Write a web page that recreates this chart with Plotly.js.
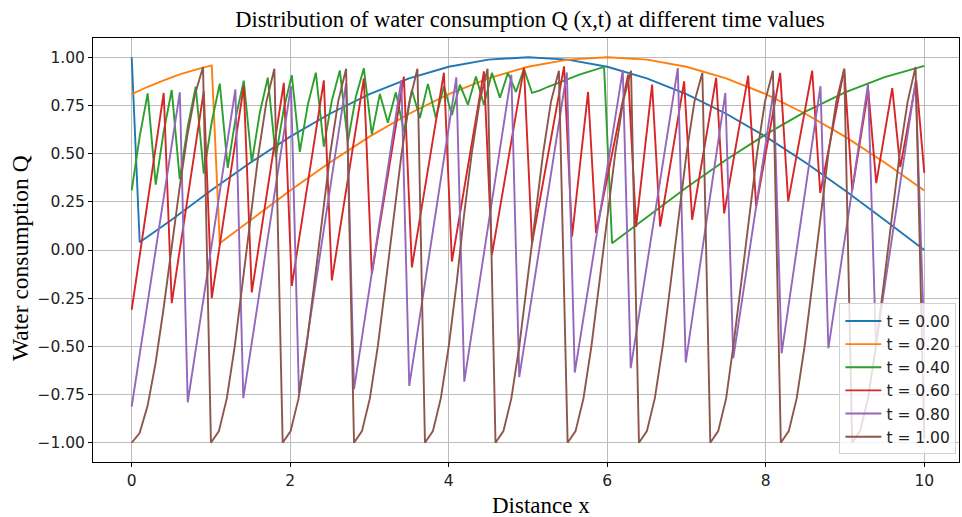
<!DOCTYPE html>
<html>
<head>
<meta charset="utf-8">
<script src="https://cdn.plot.ly/plotly-3.0.1.min.js"></script>
<style>html,body{margin:0;padding:0;background:#fff;}#chart{width:962px;height:517px;}</style>
</head>
<body>
<div id="chart"></div>
<script>
// ---- data ----
const seriesLabels = ["t = 0.00", "t = 0.20", "t = 0.40", "t = 0.60", "t = 0.80", "t = 1.00"];

const blueX = [0, 0.101, 0.5, 1, 1.5, 2, 2.5, 3, 3.5, 4, 4.5, 5, 5.5, 6, 6.5, 7, 7.5, 8, 8.5, 9, 9.5, 10];
const blueY = [1.0, 0.04, 0.156, 0.309, 0.454, 0.588, 0.707, 0.809, 0.891, 0.951, 0.988, 1.0, 0.988, 0.951, 0.891, 0.809, 0.707, 0.588, 0.454, 0.309, 0.156, 0.0];

const orangeX = [0, 0.202, 0.404, 0.606, 0.808, 1.01, 1.111, 1.5, 2, 2.5, 3, 3.5, 4, 4.5, 5, 5.5, 6, 6.5, 7, 7.5, 8, 8.5, 9, 9.5, 10];
const orangeY = [0.809, 0.847, 0.880, 0.911, 0.936, 0.958, 0.035, 0.156, 0.309, 0.454, 0.588, 0.707, 0.809, 0.891, 0.951, 0.988, 1.0, 0.988, 0.951, 0.891, 0.809, 0.707, 0.588, 0.454, 0.309];

const greenX = [0, 0.101, 0.202, 0.303, 0.404, 0.505, 0.606, 0.707, 0.808, 0.909, 1.010, 1.111, 1.212, 1.313, 1.414, 1.515, 1.616, 1.717, 1.818, 1.919,
  2.020, 2.121, 2.222, 2.323, 2.424, 2.525, 2.626, 2.727, 2.828, 2.929, 3.030, 3.131, 3.232, 3.333, 3.434, 3.535, 3.636, 3.737, 3.838, 3.939,
  4.040, 4.141, 4.242, 4.343, 4.444, 4.545, 4.646, 4.747, 4.848, 4.949, 5.051, 5.152, 5.253, 5.354, 5.455, 5.556, 5.657, 5.758, 5.859, 5.960,
  6.061, 6.5, 7, 7.5, 8, 8.5, 9, 9.5, 10];
const greenY = [0.309, 0.590, 0.813, 0.339, 0.615, 0.830, 0.368, 0.640, 0.847, 0.397, 0.664, 0.863, 0.426, 0.688, 0.879, 0.454, 0.711, 0.894, 0.482, 0.733,
  0.907, 0.509, 0.754, 0.920, 0.536, 0.775, 0.932, 0.562, 0.795, 0.943, 0.600, 0.810, 0.660, 0.818, 0.615, 0.830, 0.685, 0.862, 0.685, 0.850,
  0.700, 0.858, 0.754, 0.900, 0.754, 0.919, 0.790, 0.919, 0.820, 0.940, 0.815, 0.828, 0.847, 0.864, 0.880, 0.896, 0.911, 0.924, 0.936, 0.950,
  0.035, 0.171, 0.324, 0.468, 0.600, 0.718, 0.818, 0.897, 0.955];

const redX = [0, 0.404, 0.505, 0.909, 1.010, 1.414, 1.515, 1.919, 2.020, 2.424, 2.525, 2.929, 3.030, 3.434, 3.535, 3.939, 4.040, 4.444, 4.545, 4.949,
  5.051, 5.455, 5.556, 5.758, 5.859, 6.263, 6.364, 6.566, 6.667, 6.970, 7.071, 7.374, 7.475, 7.778, 7.879, 8.182, 8.283, 8.586, 8.687, 8.990,
  9.091, 9.293, 9.394, 9.596, 9.697, 9.899, 10.0];
const redY = [-0.31, 0.815, -0.276, 0.823, -0.25, 0.85, -0.22, 0.867, -0.186, 0.88, -0.158, 0.89, -0.124, 0.90, -0.09, 0.92, -0.06, 0.927, -0.025, 0.945,
  0.035, 0.953, 0.07, 0.82, 0.088, 0.91, 0.12, 0.858, 0.122, 0.875, 0.157, 0.893, 0.19, 0.905, 0.227, 0.919, 0.252, 0.93, 0.296, 0.94,
  0.31, 0.83, 0.347, 0.84, 0.43, 0.88, 0.40];

const purpleX = [0, 0.607, 0.707, 1.308, 1.408, 2.01, 2.11, 2.705, 2.805, 3.402, 3.502, 4.096, 4.196, 4.79, 4.89, 5.49, 5.59, 6.196, 6.296, 6.89,
  6.99, 7.49, 7.59, 8.10, 8.20, 8.69, 8.79, 9.29, 9.39, 9.89, 10.0];
const purpleY = [-0.813, 0.818, -0.790, 0.834, -0.769, 0.850, -0.743, 0.866, -0.723, 0.881, -0.705, 0.895, -0.683, 0.909, -0.660, 0.921, -0.636, 0.933, -0.613, 0.944,
  -0.584, 0.815, -0.562, 0.830, -0.536, 0.850, -0.510, 0.860, -0.490, 0.875, -0.47];

const brownX = [0, 0.1, 0.2, 0.3, 0.4, 0.5, 0.6, 0.7, 0.8, 0.9,
  1.0, 1.1, 1.2, 1.3, 1.4, 1.5, 1.6, 1.7, 1.8,
  1.905, 2.005, 2.105, 2.205, 2.305, 2.405, 2.505, 2.605, 2.705,
  2.805, 2.905, 3.005, 3.105, 3.205, 3.305, 3.405, 3.505, 3.605,
  3.70, 3.80, 3.90, 4.00, 4.10, 4.19, 4.29, 4.39, 4.49,
  4.59, 4.69, 4.79, 4.89, 4.99, 5.09, 5.19, 5.29, 5.39,
  5.50, 5.60, 5.70, 5.80, 5.90, 6.00, 6.10, 6.20, 6.30,
  6.40, 6.50, 6.60, 6.70, 6.80, 6.90, 7.00, 7.10, 7.20,
  7.30, 7.40, 7.50, 7.59, 7.69, 7.79, 7.89, 7.99, 8.09,
  8.19, 8.29, 8.39, 8.49, 8.59, 8.69, 8.79, 8.89, 8.99,
  9.09, 9.19, 9.29, 9.39, 9.49, 9.59, 9.69, 9.79, 9.89, 10.0];
const brownY = [-1, -0.95, -0.81, -0.59, -0.31, 0, 0.31, 0.59, 0.81, 0.95,
  -1, -0.94, -0.77, -0.5, -0.17, 0.17, 0.5, 0.77, 0.94,
  -1, -0.94, -0.77, -0.5, -0.17, 0.17, 0.5, 0.77, 0.94,
  -1, -0.94, -0.77, -0.5, -0.17, 0.17, 0.5, 0.77, 0.94,
  -1, -0.94, -0.77, -0.5, -0.17, 0.17, 0.5, 0.77, 0.94,
  -1, -0.94, -0.77, -0.5, -0.17, 0.17, 0.5, 0.77, 0.93,
  -1, -0.94, -0.77, -0.5, -0.17, 0.17, 0.5, 0.77, 0.93,
  -1, -0.94, -0.77, -0.5, -0.17, 0.17, 0.5, 0.77, 0.92,
  -1, -0.94, -0.77, -0.5, -0.17, 0.17, 0.5, 0.77, 0.93,
  -1, -0.94, -0.77, -0.5, -0.17, 0.17, 0.5, 0.77, 0.94,
  -1, -0.94, -0.77, -0.5, -0.17, 0.17, 0.5, 0.77, 0.95, -0.98];

const xTicks = [0, 2, 4, 6, 8, 10];
const xTickText = ["0", "2", "4", "6", "8", "10"];
const yTicks = [-1, -0.75, -0.5, -0.25, 0, 0.25, 0.5, 0.75, 1];
const yTickText = ["\u22121.00", "\u22120.75", "\u22120.50", "\u22120.25", "0.00", "0.25", "0.50", "0.75", "1.00"];

const colors = ["#1f77b4", "#ff7f0e", "#2ca02c", "#d62728", "#9467bd", "#8c564b"];
const xs = [blueX, orangeX, greenX, redX, purpleX, brownX];
const ys = [blueY, orangeY, greenY, redY, purpleY, brownY];

const traces = xs.map((x, i) => ({
  x: x, y: ys[i], type: "scatter", mode: "lines", name: seriesLabels[i],
  line: {color: colors[i], width: 1.9}
}));

const serif = "Liberation Serif, Times New Roman, serif";
const sans = "DejaVu Sans, sans-serif";

const layout = {
  width: 962, height: 517,
  margin: {l: 93, r: 3, t: 38, b: 55},
  paper_bgcolor: "#fff", plot_bgcolor: "#fff",
  title: {text: "Distribution of water consumption Q (x,t) at different time values",
    font: {family: serif, size: 22.5, color: "#000"}, x: 0.551, xanchor: "center", y: 0.963, yanchor: "middle", yref: "container"},
  xaxis: {range: [-0.4883, 10.438], tickvals: xTicks, ticktext: xTickText, ticks: "outside", ticklen: 4, tickcolor: "#000",
    showline: true, mirror: true, linecolor: "#000", linewidth: 1, showgrid: true, gridcolor: "#bcbcbc", gridwidth: 1, zeroline: false,
    tickfont: {family: sans, size: 15.5, color: "#222"}},
  yaxis: {range: [-1.1, 1.1], tickvals: yTicks, ticktext: yTickText, ticks: "outside", ticklen: 4, tickcolor: "#000",
    showline: true, mirror: true, linecolor: "#000", linewidth: 1, showgrid: true, gridcolor: "#bcbcbc", gridwidth: 1, zeroline: false,
    tickfont: {family: sans, size: 15.5, color: "#222"}},
  annotations: [
    {text: "Distance x", xref: "paper", yref: "paper", x: (541 - 93) / 866, y: -(505 - 462) / 424, xanchor: "center", yanchor: "middle",
      showarrow: false, font: {family: serif, size: 23, color: "#000"}},
    {text: "Water consumption Q", xref: "paper", yref: "paper", x: -(93 - 20) / 866, y: (462 - 258) / 424, xanchor: "center", yanchor: "middle",
      textangle: -90, showarrow: false, font: {family: serif, size: 23.5, color: "#000"}}
  ],
  legend: {x: 0.997, y: 0.018, xanchor: "right", yanchor: "bottom", bgcolor: "rgba(255,255,255,0.8)",
    bordercolor: "#d0d0d0", borderwidth: 1, font: {family: sans, size: 15.5, color: "#222"}, tracegroupgap: 0, itemwidth: 36},
  showlegend: true
};

Plotly.newPlot("chart", traces, layout, {displayModeBar: false, staticPlot: true});
</script>
</body>
</html>
